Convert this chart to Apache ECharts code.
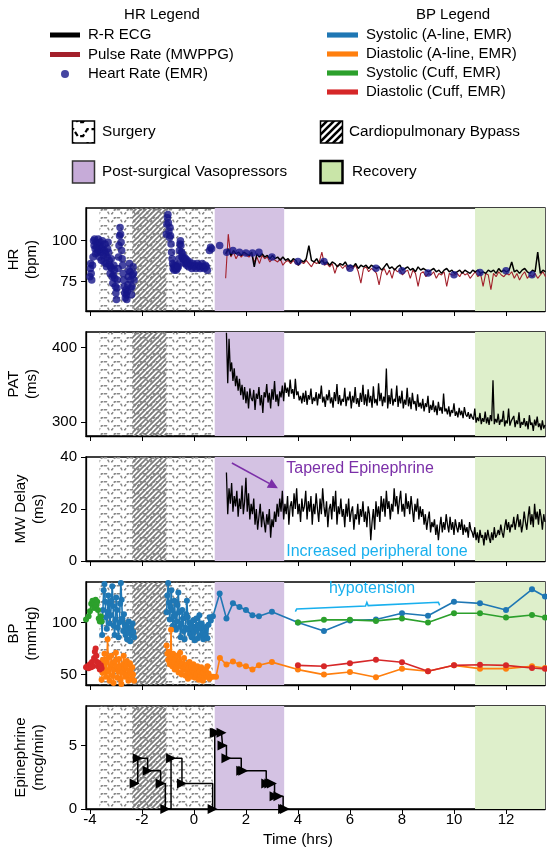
<!DOCTYPE html>
<html>
<head>
<meta charset="utf-8">
<script src="https://cdn.jsdelivr.net/npm/echarts@6/dist/echarts.min.js"></script>
<style>html,body{margin:0;padding:0;background:#fff}#main{width:547px;height:850px}</style>
</head>
<body>
<div id="main"></div>
<script>
var FONT = 'Liberation Sans, Arial, Helvetica, sans-serif';

// ---- phases (hrs) ----
var surgerySpan = [-3.63, 0.72];
var bypassSpan = [-2.37, -1.06];
var vasoSpan = [0.8, 3.47];
var recoverySpan = [10.81, 13.5];

// ---- ticks ----
var timeTicks = [-4, -2, 0, 2, 4, 6, 8, 10, 12];
var hrTicks = [75, 100];
var patTicks = [300, 400];
var mwTicks = [0, 20, 40];
var bpTicks = [50, 100];
var epiTicks = [0, 5];

// ---- HR panel ----
// R-R ECG and MWPPG pulse rate, sampled every 0.1 h from 1.22 h
var hrStart = 1.22, hrStep = 0.1;
var ecgHR = [92, 95, 91, 94, 92, 93, 91, 93, 92,
  91, 93, 84, 92, 90, 92, 90, 91, 89, 91,
  89, 90, 88, 90, 88, 89, 87, 89, 88, 85,
  88, 87, 89, 97, 88, 87, 89, 86, 88, 86,
  87, 85, 87, 86, 84, 86, 85, 87, 84, 85,
  84, 86, 83, 85, 84, 85, 83, 85, 84, 83,
  84, 82, 84, 86, 83, 84, 82, 84, 85, 82,
  83, 84, 82, 83, 81, 84, 82, 83, 82, 81,
  82, 83, 81, 82, 80, 82, 83, 81, 82, 80,
  81, 82, 80, 82, 81, 80, 82, 81, 82, 80,
  81, 80, 82, 81, 82, 80, 83, 81, 82, 81,
  82, 87, 81, 82, 80, 82, 83, 81, 80, 82,
  81, 93, 80, 82, 81];
var ppgHR = [77, 104, 90, 93, 89, 92, 90, 92, 91,
  90, 92, 87, 90, 86, 91, 89, 90, 87, 89,
  88, 87, 89, 85, 87, 88, 86, 88, 86, 85,
  87, 86, 88, 86, 84, 87, 86, 87, 93, 85,
  86, 84, 86, 80, 85, 85, 83, 85, 82, 84,
  83, 85, 81, 74, 83, 84, 81, 83, 82, 80,
  73, 81, 83, 79, 82, 77, 83, 81, 82, 79,
  81, 82, 77, 82, 80, 72, 80, 81, 78, 80,
  79, 81, 77, 80, 79, 81, 72, 80, 79, 79,
  80, 78, 81, 79, 80, 77, 79, 81, 78, 80,
  72, 80, 79, 70, 80, 78, 81, 79, 78, 80,
  79, 81, 77, 80, 76, 79, 81, 77, 79, 78,
  80, 77, 79, 81, 78];
// EMR heart rate [h, bpm]
var emrHR = [[-4.0,78],[-3.98,83],[-3.97,86],[-3.95,80],[-3.93,76],[-3.9,85],[-3.88,90],[-3.86,100],[-3.84,97],[-3.82,101],
  [-3.8,95],[-3.78,92],[-3.76,99],[-3.74,96],[-3.72,93],[-3.7,98],[-3.68,101],[-3.66,94],[-3.64,90],[-3.62,97],
  [-3.6,99],[-3.58,93],[-3.56,88],[-3.54,95],[-3.52,100],[-3.5,96],[-3.48,91],[-3.46,87],[-3.44,94],[-3.42,98],
  [-3.4,92],[-3.38,86],[-3.36,84],[-3.34,90],[-3.32,95],[-3.3,99],[-3.28,93],[-3.26,88],[-3.24,85],[-3.22,80],
  [-3.2,84],[-3.18,89],[-3.16,83],[-3.14,78],[-3.12,74],[-3.1,79],[-3.08,85],[-3.06,82],[-3.04,77],[-3.02,72],
  [-3.0,68],[-2.98,64],[-2.96,71],[-2.94,76],[-2.92,83],[-2.9,90],[-2.88,97],[-2.86,103],[-2.84,108],[-2.82,104],
  [-2.8,99],[-2.78,94],[-2.76,89],[-2.74,85],[-2.72,80],[-2.7,76],[-2.68,72],[-2.66,68],[-2.64,65],[-2.62,70],
  [-2.6,67],[-2.58,64],[-2.56,69],[-2.54,73],[-2.52,78],[-2.5,82],[-2.48,86],[-2.46,81],[-2.44,76],[-2.42,71],
  [-2.4,67],[-2.38,72],[-2.36,79],[-2.34,84],[-2.32,80],[-2.3,76],
  [-1.06,104],[-1.04,110],[-1.02,114],[-1.0,116],[-0.98,111],[-0.96,106],[-0.94,102],[-0.92,108],[-0.9,103],[-0.88,98],
  [-0.86,93],[-0.84,89],[-0.82,86],[-0.8,83],[-0.78,85],[-0.76,82],[-0.74,84],[-0.72,83],[-0.7,85],[-0.68,82],
  [-0.66,84],[-0.64,83],[-0.62,85],[-0.6,84],[-0.58,89],[-0.56,94],[-0.54,98],[-0.52,100],[-0.5,97],[-0.48,93],
  [-0.46,90],[-0.44,92],[-0.42,89],[-0.4,87],[-0.38,90],[-0.36,88],[-0.34,86],[-0.32,89],[-0.3,87],[-0.28,85],
  [-0.26,88],[-0.24,86],[-0.2,84],[-0.16,87],[-0.12,85],[-0.08,83],[-0.04,86],[0.0,84],[0.04,85],[0.08,83],
  [0.12,86],[0.16,84],[0.2,85],[0.24,83],[0.28,84],[0.32,86],[0.36,84],[0.4,83],[0.44,85],[0.48,84],
  [0.52,82],[0.6,94],[0.64,96],[0.68,95],[0.99,97],
  [1.26,93],[1.5,94],[1.75,93],[2.0,92.5],[2.25,92.5],[2.5,93],[3.0,90],[4.0,87.3],[5.0,87.3],[6.0,83.2],
  [7.0,83.2],[8.0,81.6],[9.0,80.2],[10.0,79.1],[11.0,80.6],[12.0,81.6],[13.0,79.1]];

// ---- PAT and MW delay, sampled every 0.05 h from 1.25 h ----
var sigStart = 1.25, sigStep = 0.05;
var patVals = [420, 352, 412, 368, 380, 355, 372, 348, 362, 342,
  358, 336, 350, 330, 347, 325, 341, 318, 345, 332,
  328, 343, 316, 338, 331, 347, 322, 336, 312, 340,
  333, 351, 326, 339, 318, 344, 330, 355, 327, 337,
  321, 341, 333, 349, 328, 353, 339, 346, 334, 357,
  338, 344, 331, 358, 336, 341, 329, 335, 325, 339,
  327, 342, 323, 336, 330, 345, 324, 333, 328, 340,
  322, 338, 331, 349, 326, 334, 320, 337, 329, 343,
  325, 333, 319, 340, 328, 351, 324, 336, 322, 331,
  327, 346, 321, 334, 329, 341, 318, 335, 326, 347,
  324, 332, 320, 339, 327, 350, 323, 337, 321, 344,
  326, 335, 319, 348, 325, 331, 322, 352, 328, 339,
  321, 334, 326, 372, 318, 336, 324, 345, 322, 331,
  327, 349, 320, 335, 325, 342, 318, 330, 323, 346,
  321, 333, 317, 339, 324, 328, 315, 337, 320, 326,
  318, 331, 314, 325, 320, 335, 312, 323, 316, 329,
  313, 322, 309, 327, 315, 320, 311, 338, 314, 318,
  310, 321, 307, 316, 312, 325, 308, 314, 306, 319,
  309, 315, 305, 320, 310, 307, 313, 304, 311, 306,
  303, 318, 299, 306, 301, 312, 297, 305, 300, 314,
  298, 306, 296, 309, 301, 356, 297, 304, 299, 311,
  296, 303, 300, 315, 294, 302, 298, 318, 295, 301,
  299, 308, 293, 302, 297, 313, 292, 300, 296, 305,
  294, 301, 290, 309, 296, 299, 288, 303, 295, 307,
  293, 298, 289, 302, 291, 296];
var mwVals = [34, 18, 28, 22, 30, 19, 25, 21, 27, 17,
  24, 20, 29, 18, 23, 32, 19, 26, 16, 22,
  18, 24, 14, 20, 12, 17, 22, 13, 19, 15,
  11, 18, 14, 20, 9, 16, 13, 19, 15, 22,
  17, 24, 19, 27, 16, 22, 18, 25, 14, 21,
  23, 17, 26, 20, 28, 18, 22, 15, 24, 19,
  21, 27, 16, 23, 19, 25, 14, 22, 18, 26,
  20, 15, 24, 18, 28, 21, 17, 23, 13, 20,
  22, 16, 25, 19, 27, 14, 21, 18, 24, 17,
  20, 13, 22, 17, 24, 15, 19, 21, 12, 18,
  16, 22, 14, 20, 17, 23, 15, 19, 13, 21,
  18, 8, 15, 20, 12, 23, 17, 21, 15, 25,
  19, 24, 17, 27, 20, 23, 16, 22, 19, 28,
  21, 25, 18, 23, 27, 19, 22, 17, 26, 20,
  23, 18, 25, 20, 15, 22, 19, 24, 16, 21,
  17, 20, 14, 18, 12, 16, 19, 11, 15, 13,
  16, 10, 14, 8, 13, 17, 11, 15, 12, 18,
  14, 11, 17, 12, 15, 10, 16, 13, 11, 15,
  12, 16, 10, 14, 11, 13, 9, 15, 12, 11,
  9, 13, 8, 11, 7, 12, 9, 10, 6, 11,
  8, 12, 9, 7, 11, 8, 13, 9, 10, 12,
  10, 14, 11, 9, 13, 16, 12, 15, 11, 14,
  13, 17, 12, 15, 18, 13, 16, 11, 14, 19,
  15, 12, 17, 21, 14, 18, 13, 22, 16, 19,
  14, 20, 17, 12, 18, 15];

// ---- BP [h, mmHg] ----
var sysAline = [[-3.55,101],[-3.53,88],[-3.5,112],[-3.47,131],[-3.44,137],[-3.41,120],[-3.38,105],[-3.35,94],[-3.32,110],[-3.29,126],
  [-3.26,118],[-3.23,99],[-3.2,107],[-3.17,121],[-3.14,135],[-3.11,116],[-3.08,97],[-3.05,88],[-3.02,103],[-2.99,124],
  [-2.96,112],[-2.93,95],[-2.9,86],[-2.87,100],[-2.84,118],[-2.81,138],[-2.78,122],[-2.75,104],[-2.72,92],[-2.69,108],
  [-2.66,98],[-2.63,88],[-2.6,96],[-2.57,84],[-2.54,93],[-2.51,101],[-2.48,90],[-2.45,82],[-2.42,95],[-2.39,88],
  [-2.36,99],[-2.33,91],[-2.3,86],['-','-'],
  [-1.05,110],[-1.02,126],[-0.99,138],[-0.96,119],[-0.93,103],[-0.9,115],[-0.87,131],[-0.84,112],[-0.81,97],[-0.78,106],
  [-0.75,121],[-0.72,108],[-0.69,93],[-0.66,101],[-0.63,117],[-0.6,129],[-0.57,110],[-0.54,96],[-0.51,86],[-0.48,99],
  [-0.45,112],[-0.42,104],[-0.39,92],[-0.36,84],[-0.33,95],[-0.3,108],[-0.27,121],[-0.24,105],[-0.21,93],[-0.18,100],
  [-0.15,89],[-0.12,97],[-0.09,86],[-0.06,94],[-0.03,102],[0.0,91],[0.03,83],[0.06,96],[0.09,104],[0.12,93],
  [0.15,85],[0.18,98],[0.21,107],[0.24,95],[0.27,88],[0.3,99],[0.33,90],[0.36,84],[0.4,95],[0.44,88],
  [0.48,96],[0.52,85],[0.56,98],[0.6,105],[0.65,102],[0.73,106],
  [0.99,128],[1.25,104],[1.5,118.5],[1.75,115],[2.0,112],[2.25,107],[2.5,106],[3.0,110.5],
  [4,100],[5,92],[6,102],[7,103],[8,109],[9,106.5],[10,120],[11,118.5],[12,112],[13,132],[13.5,125]];
var diaAline = [[-3.55,45],[-3.52,52],[-3.5,64],[-3.47,58],[-3.44,70],[-3.41,55],[-3.38,48],[-3.35,62],[-3.32,84],[-3.3,66],
  [-3.27,53],[-3.24,44],[-3.21,57],[-3.18,68],[-3.15,60],[-3.12,49],[-3.09,42],[-3.06,55],[-3.03,63],[-3.0,71],
  [-2.97,58],[-2.94,47],[-2.91,53],[-2.88,65],[-2.85,57],[-2.82,45],[-2.79,41],[-2.76,52],[-2.73,60],[-2.7,68],
  [-2.67,56],[-2.64,48],[-2.61,58],[-2.58,63],[-2.55,50],[-2.52,44],[-2.49,54],[-2.46,61],[-2.43,52],[-2.4,46],
  [-2.37,57],[-2.34,50],[-2.3,44],['-','-'],
  [-1.05,78],[-1.02,70],[-0.99,64],[-0.96,72],[-0.93,60],[-0.9,67],[-0.88,93],[-0.86,66],[-0.83,58],[-0.8,70],
  [-0.77,62],[-0.74,55],[-0.71,65],[-0.68,57],[-0.65,68],[-0.62,60],[-0.59,52],[-0.56,63],[-0.53,71],[-0.5,58],
  [-0.47,50],[-0.44,61],[-0.41,55],[-0.38,66],[-0.35,57],[-0.32,49],[-0.29,60],[-0.26,53],[-0.23,46],[-0.2,56],
  [-0.17,62],[-0.14,51],[-0.11,57],[-0.08,48],[-0.05,54],[-0.02,60],[0.01,52],[0.04,47],[0.07,56],[0.1,50],
  [0.13,58],[0.16,51],[0.19,45],[0.22,53],[0.25,49],[0.28,57],[0.31,50],[0.34,44],[0.37,52],[0.4,47],
  [0.44,55],[0.48,49],[0.52,58],[0.56,51],[0.6,46],[0.65,48],[0.73,48],[0.85,48],
  [1.0,66],[1.25,59.6],[1.5,62.7],[1.75,59.6],[2.0,58],[2.25,55],[2.5,58.9],[3.0,62],
  [4,54.8],[5,50],[6,52.5],[7,47.4],[8,55.7],[9,53.2],[10,58.9],[11,55.7],[12,55.7],[13,58],[13.5,56.4]];
var sysCuff = [[-4.15,103],[-4.05,106],[-4.0,111],[-3.95,118],[-3.9,121],[-3.87,117],[-3.84,114],[-3.81,119],[-3.78,122],[-3.75,117],
  [-3.72,120],[-3.69,112],[-3.66,104],[-3.62,101],[-3.58,106],[-3.55,101],['-','-'],
  [4,100],[5,102.6],[6,102.6],[7,101.6],[8,104],[9,100],[10,109],[11,109],[12,104.8],[13,107.3],[13.5,104.8]];
var diaCuff = [[-4.15,57],[-4.1,58],[-4.05,56],[-4.0,60],[-3.95,57],[-3.92,62],[-3.88,58],[-3.84,66],[-3.81,72],[-3.78,75],
  [-3.75,68],[-3.72,62],[-3.69,58],[-3.66,61],[-3.62,55],[-3.58,59],[-3.55,56],['-','-'],
  [4,58.9],[5,58],[6,61],[7,64.3],[8,61.8],[9,53.2],[10,58.9],[11,59.5],[12,58.9],[13,56.4],[13.5,55.5]];

// ---- Epinephrine dose changes ----
var epiTimes = [-2.28, -2.16, -1.78, -1.28, -1.1, -0.88, -0.46, 0.72, 0.8, 0.86, 1.06, 1.1, 1.25, 1.82, 1.9, 2.78, 2.9, 3.0, 3.1, 3.25, 3.43, 3.5];
var epiDoses = [2, 4, 3, 2, 0, 4, 2, 0, 6, 6, 6, 5, 4, 3, 3, 2, 2, 2, 1, 1, 0, 0];

function sampled(t0, step, vals) {
  return vals.map(function (v, i) { return [Math.round((t0 + i * step) * 1000) / 1000, v]; });
}
function paired(ts, vs) {
  return ts.map(function (t, i) { return [t, vs[i]]; });
}

// ---- hatch patterns ----
function wavePattern(color, s, lw, dash) {
  var c = document.createElement('canvas');
  c.width = Math.round(13 * s); c.height = Math.round(8 * s);
  var g = c.getContext('2d');
  g.strokeStyle = color; g.lineWidth = lw; g.lineCap = 'butt';
  if (dash) g.setLineDash(dash);
  g.beginPath();
  g.moveTo(0, 1.8 * s); g.lineTo(2.5 * s, 1.8 * s); g.lineTo(5 * s, 5.8 * s);
  g.lineTo(8 * s, 5.8 * s); g.lineTo(10.5 * s, 1.8 * s); g.lineTo(13 * s, 1.8 * s);
  g.stroke();
  return c;
}
function diagPattern(color, s, lw) {
  var c = document.createElement('canvas');
  c.width = Math.round(5 * s); c.height = Math.round(5 * s);
  var g = c.getContext('2d');
  g.strokeStyle = color; g.lineWidth = lw;
  g.beginPath();
  g.moveTo(-1 * s, 6 * s); g.lineTo(6 * s, -1 * s);
  g.moveTo(-1 * s, 1 * s); g.lineTo(1 * s, -1 * s);
  g.moveTo(4 * s, 6 * s); g.lineTo(6 * s, 4 * s);
  g.stroke();
  return c;
}
var waveCanvas = wavePattern('#8a8a8a', 1, 1.6, [3, 1.6]);
var diagCanvas = diagPattern('#7c7c7c', 1, 1.7);
var waveLegend = wavePattern('#000', 1.75, 2.2, [5, 2.5]);
var diagLegend = diagPattern('#000', 1.4, 2.6);

var purple = '#d4c2e3', green = '#deefcb';

var grids = [
  { left: 86, top: 208, width: 459, height: 103 },
  { left: 86, top: 332, width: 459, height: 104 },
  { left: 86, top: 457, width: 459, height: 104 },
  { left: 86, top: 582, width: 459, height: 103 },
  { left: 86, top: 706, width: 459, height: 103 }
].map(function (g) {
  g.show = true; g.borderColor = '#000'; g.borderWidth = 1.3;
  g.containLabel = false; g.outerBoundsMode = 'none';
  return g;
});

var yInfo = [
  { name: 'HR\n(bpm)', min: 57, max: 120, ticks: hrTicks },
  { name: 'PAT\n(ms)', min: 281, max: 421, ticks: patTicks },
  { name: 'MW Delay\n(ms)', min: 0, max: 40, ticks: mwTicks },
  { name: 'BP\n(mmHg)', min: 40, max: 139, ticks: bpTicks },
  { name: 'Epinephrine\n(mcg/min)', min: 0, max: 8.1, ticks: epiTicks }
];

var xAxes = grids.map(function (g, i) {
  return {
    type: 'value', gridIndex: i, min: -4.15, max: 13.5,
    splitLine: { show: false },
    axisLine: { onZero: false, lineStyle: { color: '#000', width: 1.3 } },
    axisTick: { customValues: timeTicks, length: 5, lineStyle: { color: '#000' } },
    axisLabel: { show: i === 4, customValues: timeTicks, fontSize: 15, fontFamily: FONT, color: '#000', margin: 3 }
  };
});
var yAxes = yInfo.map(function (y, i) {
  return {
    type: 'value', gridIndex: i, min: y.min, max: y.max,
    name: y.name, nameLocation: 'middle', nameGap: 38, nameRotate: 90,
    nameTextStyle: { fontSize: 15, fontFamily: FONT, color: '#000', lineHeight: 18, align: 'center' },
    splitLine: { show: false },
    axisLine: { show: true, onZero: false, lineStyle: { color: '#000', width: 1.3 } },
    axisTick: { customValues: y.ticks, length: 5, lineStyle: { color: '#000' } },
    axisLabel: { customValues: y.ticks, fontSize: 15, fontFamily: FONT, color: '#000', margin: 9 }
  };
});

function regionSeries(i) {
  return {
    type: 'line', xAxisIndex: i, yAxisIndex: i, data: [], silent: true, z: 1,
    markArea: {
      silent: true,
      data: [
        [{ xAxis: vasoSpan[0], itemStyle: { color: purple } }, { xAxis: vasoSpan[1] }],
        [{ xAxis: recoverySpan[0], itemStyle: { color: green } }, { xAxis: recoverySpan[1] }],
        [{ xAxis: surgerySpan[0], itemStyle: { color: { image: waveCanvas, repeat: 'repeat' } } }, { xAxis: surgerySpan[1] }],
        [{ xAxis: bypassSpan[0], itemStyle: { color: { image: diagCanvas, repeat: 'repeat' } } }, { xAxis: bypassSpan[1] }]
      ]
    }
  };
}

var barIcon = 'path://M0,0h30v5h-30z';
var cBlue = '#1f77b4', cOrange = '#ff7f0e', cGreen = '#2ca02c', cRed = '#d62728';

function bpSeries(name, data, color) {
  return {
    name: name, type: 'line', xAxisIndex: 3, yAxisIndex: 3, data: data, z: 3,
    color: color, symbol: 'circle', symbolSize: 6, showSymbol: true,
    lineStyle: { width: 1.6, color: color }, itemStyle: { color: color }
  };
}

var series = [0, 1, 2, 3, 4].map(regionSeries).concat([
  { name: 'Pulse Rate (MWPPG)', type: 'line', xAxisIndex: 0, yAxisIndex: 0, data: sampled(hrStart, hrStep, ppgHR),
    showSymbol: false, color: '#a3202b', lineStyle: { width: 1.1, color: '#a3202b' }, z: 3 },
  { name: 'R-R ECG', type: 'line', xAxisIndex: 0, yAxisIndex: 0, data: sampled(hrStart, hrStep, ecgHR),
    showSymbol: false, color: '#000', lineStyle: { width: 1.5, color: '#000' }, z: 4 },
  { name: 'Heart Rate (EMR)', type: 'scatter', xAxisIndex: 0, yAxisIndex: 0, data: emrHR,
    symbolSize: 7.5, color: '#17178a', itemStyle: { color: '#17178a' }, z: 5 },
  { name: 'PAT', type: 'line', xAxisIndex: 1, yAxisIndex: 1, data: sampled(sigStart, sigStep, patVals),
    showSymbol: false, lineStyle: { width: 1.3, color: '#000' }, z: 3 },
  { name: 'MW Delay', type: 'line', xAxisIndex: 2, yAxisIndex: 2, data: sampled(sigStart, sigStep, mwVals),
    showSymbol: false, lineStyle: { width: 1.3, color: '#000' }, z: 3 },
  bpSeries('Systolic (A-line, EMR)', sysAline, cBlue),
  bpSeries('Diastolic (A-line, EMR)', diaAline, cOrange),
  bpSeries('Systolic (Cuff, EMR)', sysCuff, cGreen),
  bpSeries('Diastolic (Cuff, EMR)', diaCuff, cRed),
  { name: 'Epinephrine', type: 'line', xAxisIndex: 4, yAxisIndex: 4, data: paired(epiTimes, epiDoses),
    step: 'end', symbol: 'triangle', symbolSize: 10, symbolRotate: -90, showSymbol: true,
    lineStyle: { width: 1.5, color: '#000' }, itemStyle: { color: '#000' }, z: 3 }
]);

var legendText = { fontSize: 15, fontFamily: FONT, color: '#000', lineHeight: 16, padding: [0, 0, 0, 3] };
var option = {
  animation: false,
  backgroundColor: '#fff',
  grid: grids,
  xAxis: xAxes,
  yAxis: yAxes,
  legend: [
    { left: 45, top: 22, orient: 'vertical', itemWidth: 30, itemHeight: 8, itemGap: 3.5, selectedMode: false,
      textStyle: legendText,
      data: [{ name: 'R-R ECG', icon: barIcon }, { name: 'Pulse Rate (MWPPG)', icon: barIcon }, { name: 'Heart Rate (EMR)', icon: 'circle' }] },
    { left: 322, top: 22, orient: 'vertical', itemWidth: 31, itemHeight: 8, itemGap: 3, selectedMode: false,
      textStyle: legendText,
      data: [{ name: 'Systolic (A-line, EMR)', icon: barIcon }, { name: 'Diastolic (A-line, EMR)', icon: barIcon },
        { name: 'Systolic (Cuff, EMR)', icon: barIcon }, { name: 'Diastolic (Cuff, EMR)', icon: barIcon }] }
  ],
  series: series
};

var chart = echarts.init(document.getElementById('main'));
chart.setOption(option);

// ---- annotations ----
function px(i, pt) { return chart.convertToPixel({ xAxisIndex: i, yAxisIndex: i }, pt); }
function txt(x, y, s, color, size, align) {
  return { type: 'text', z: 100, style: { x: x, y: y, text: s, fill: color, font: size + 'px ' + FONT,
    textAlign: align || 'left', textVerticalAlign: 'middle' } };
}
var a0 = px(2, [1.46, 37.7]), a1 = px(2, [3.23, 28]);
var dx = a1[0] - a0[0], dy = a1[1] - a0[1], L = Math.sqrt(dx * dx + dy * dy), ux = dx / L, uy = dy / L;
var hb = [a1[0] - ux * 10, a1[1] - uy * 10];
var purpleTxt = '#7b2fa8', cyanTxt = '#19b0ee';
var brace = [[3.9, 110.5], [3.95, 113], [6.6, 116], [6.65, 119.5], [6.7, 116.3], [9.4, 119.5], [9.45, 116.5]].map(function (p) { return px(3, p); });
var hyp = px(3, [6.85, 132.5]);
var tap = px(2, [3.55, 35.5]), inc = px(2, [3.55, 3.8]);

var graphics = [
  txt(162, 15, 'HR Legend', '#000', 15, 'center'),
  txt(453, 15, 'BP Legend', '#000', 15, 'center'),
  { type: 'rect', shape: { x: 72.5, y: 121, width: 22, height: 22 }, style: { fill: { image: waveLegend, repeat: 'repeat' }, stroke: '#000', lineWidth: 1.5 } },
  txt(102, 132, 'Surgery', '#000', 15.3),
  { type: 'rect', shape: { x: 320.5, y: 121, width: 22, height: 22 }, style: { fill: { image: diagLegend, repeat: 'repeat' }, stroke: '#000', lineWidth: 1.5 } },
  txt(349, 132, 'Cardiopulmonary Bypass', '#000', 15.3),
  { type: 'rect', shape: { x: 72.5, y: 161, width: 22, height: 22 }, style: { fill: '#c6abd8', stroke: '#333', lineWidth: 1.5 } },
  txt(102, 172, 'Post-surgical Vasopressors', '#000', 15.3),
  { type: 'rect', shape: { x: 320.5, y: 161, width: 22, height: 22 }, style: { fill: '#c9e5a8', stroke: '#000', lineWidth: 2.5 } },
  txt(352, 172, 'Recovery', '#000', 15.3),
  txt(298, 840, 'Time (hrs)', '#000', 15.5, 'center'),
  { type: 'line', z: 100, shape: { x1: a0[0], y1: a0[1], x2: hb[0], y2: hb[1] }, style: { stroke: purpleTxt, lineWidth: 1.6 } },
  { type: 'polygon', z: 100, shape: { points: [a1, [hb[0] - uy * 5, hb[1] + ux * 5], [hb[0] + uy * 5, hb[1] - ux * 5]] }, style: { fill: purpleTxt } },
  txt(tap[0], tap[1], 'Tapered Epinephrine', purpleTxt, 16),
  txt(inc[0], inc[1], 'Increased peripheral tone', cyanTxt, 16),
  { type: 'polyline', z: 100, shape: { points: brace }, style: { stroke: cyanTxt, lineWidth: 1.5, fill: null } },
  txt(hyp[0], hyp[1], 'hypotension', cyanTxt, 16, 'center')
];
chart.setOption({ graphic: graphics });
</script>
</body>
</html>
